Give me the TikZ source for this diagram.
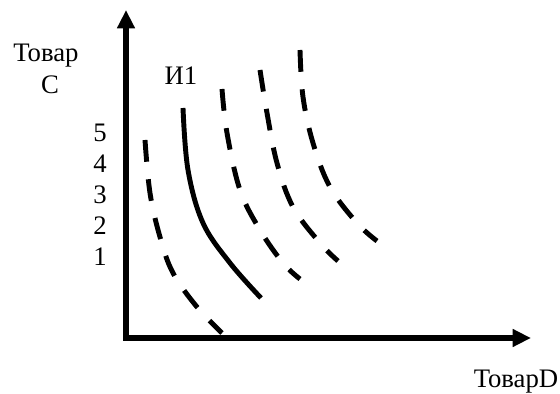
\documentclass[tikz,border=0pt]{standalone}
\usepackage{fontspec}
\setmainfont{Liberation Serif}
\usetikzlibrary{arrows.meta}

\tikzset{
    axis/.style={line width=4pt, -{Triangle[length=13pt, width=12pt]}},
    curve/.style={line width=3.5pt},
    dashcurve/.style={curve, dash pattern=on 15.5pt off 12.5pt},
}

\begin{document}
\begin{tikzpicture}[x=0.025cm, y=-0.025cm, font=\fontsize{19}{22}\selectfont]
        \useasboundingbox (0,0) rectangle (560,394);

        \coordinate (O) at (126,338);
        \coordinate (ytop) at (126,10);
        \coordinate (xend) at (531,338);

        \draw[axis] (O |- 0,340) -- (ytop);
        \draw[axis] ([xshift=-2pt]O) -- (xend);

        \node (tovarC) at (46,56) {Товар};
        \node (labC) at (50,85) {С};
        \node (tovarD) at (516,382) {ТоварD};
        \node (i1) at (181,76) {И1};

        \foreach \n/\y in {5/133, 4/164, 3/195, 2/226, 1/257}
            \node (tick\n) at (100,\y) {\n};

        % indifference curves
        \draw[dashcurve] plot[smooth, tension=0.6] coordinates {(145,140) (150,193) (160,237) (173,273) (197,307) (222,333)};
        \draw[curve] plot[smooth, tension=0.6] coordinates {(183,108) (188,170) (203,223) (230,263) (261,298)};
        \draw[dashcurve] plot[smooth, tension=0.6] coordinates {(222,89) (227,133) (240,190) (260,230) (283,263) (300,279)};
        \draw[dashcurve] plot[smooth, tension=0.6] coordinates {(260,70) (267,113) (277,163) (293,207) (320,243) (338,261)};
        \draw[dashcurve] plot[smooth, tension=0.6] coordinates {(300,50) (303,97) (313,143) (330,187) (357,223) (377,241)};
    \end{tikzpicture}
\end{document}
